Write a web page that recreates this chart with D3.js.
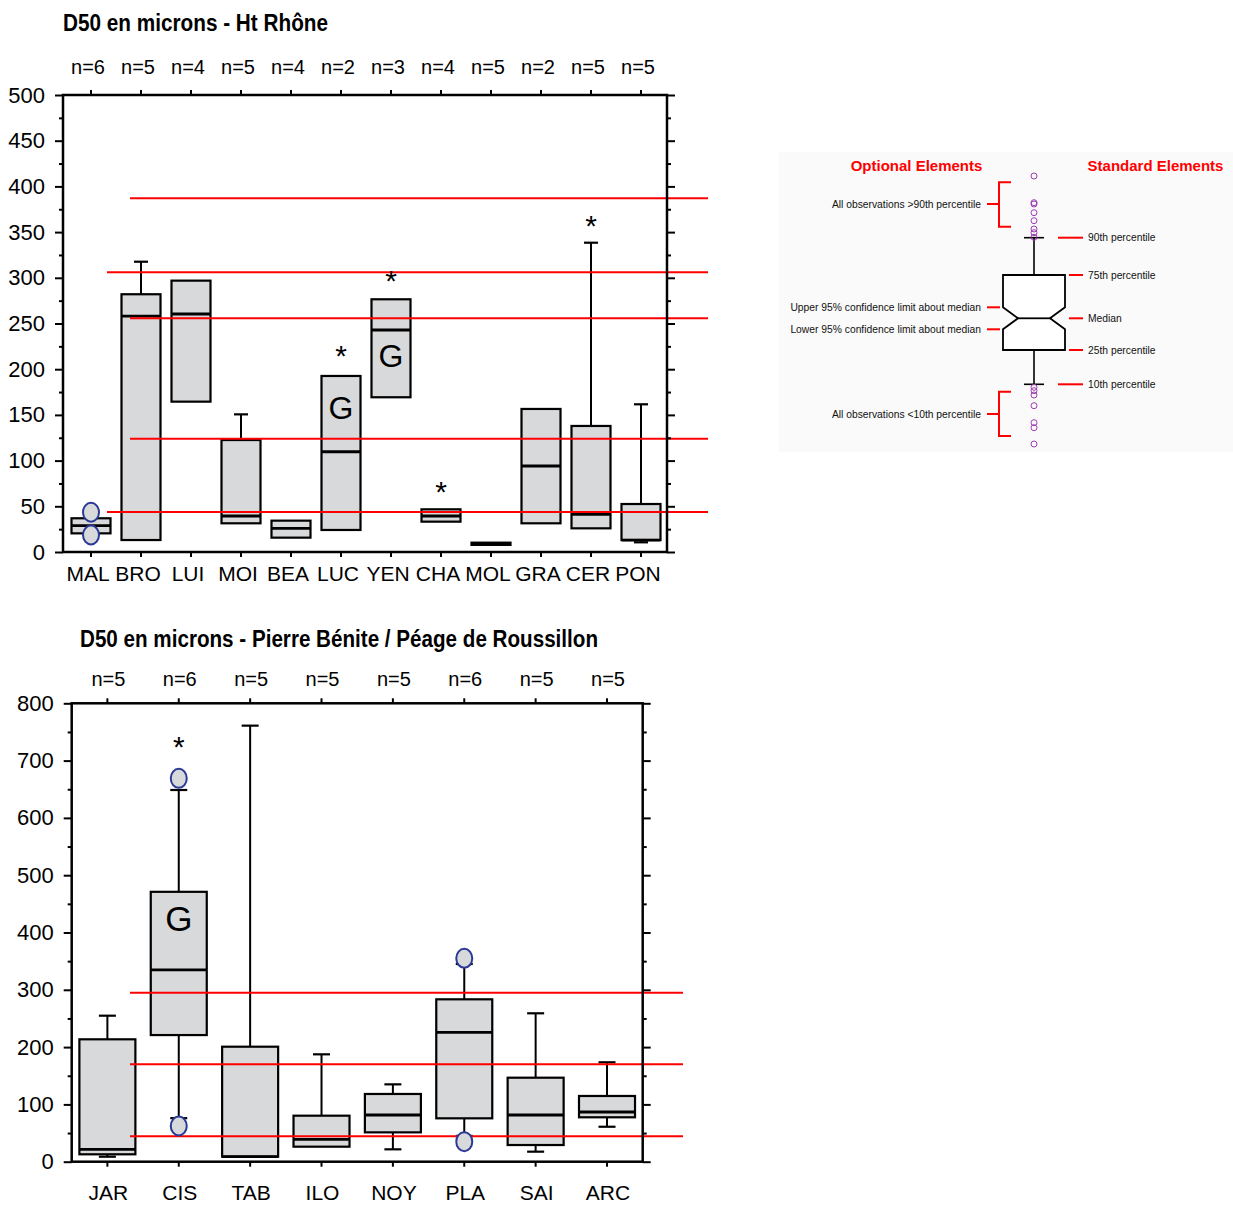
<!DOCTYPE html>
<html><head><meta charset="utf-8">
<script src="https://cdn.jsdelivr.net/npm/d3@7"></script>
<style>
body{margin:0;background:#fff}
svg{display:block}
text{font-family:"Liberation Sans",Arial,Helvetica,sans-serif}
</style>
</head><body>
<svg id="chart" width="1233" height="1205"></svg>
<script>
// ================= DATA : Ht Rhône =================
const rhoneTitle = "D50 en microns - Ht Rhône";
const rhoneCats = ["MAL","BRO","LUI","MOI","BEA","LUC","YEN","CHA","MOL","GRA","CER","PON"];
const rhoneN    = [6,5,4,5,4,2,3,4,5,2,5,5];
const rhoneQ1   = [20.4, 13.1, 164.5, 31.4, 15.7, 24.1, 169.3, 33.2, 7.8, 31.4, 25.9, 13.1];
const rhoneMed  = [28.8, 258, 260.4, 39.4, 25.9, 109.7, 242.9, 39.4, 9, 94.1, 41.2, 13.1];
const rhoneQ3   = [36.9, 282, 296.9, 122.5, 34.3, 192.6, 276.5, 46.7, 10.2, 156.5, 137.9, 52.5];
const rhoneWLo  = [null, null, null, null, null, null, null, null, null, null, null, 10.6];
const rhoneWHi  = [null, 317.6, null, 150.6, null, null, null, null, null, null, 338.4, 161.6];
const rhoneOutliers = [["MAL",43.5],["MAL",18.6]];
const rhoneStars = [["LUC",218],["YEN",300],["CHA",70],["CER",361]];
const rhoneG = [["LUC",158],["YEN",215]];
const rhoneRef = [387, 306, 255.7, 124, 43.8];
const rhoneYTicks = [0,50,100,150,200,250,300,350,400,450,500];
const rhoneYMinor = [25,75,125,175,225,275,325,375,425,475];

// ================= DATA : Pierre Bénite / Péage de Roussillon =================
const pbTitle = "D50 en microns - Pierre Bénite / Péage de Roussillon";
const pbCats = ["JAR","CIS","TAB","ILO","NOY","PLA","SAI","ARC"];
const pbN    = [5,6,5,5,5,6,5,5];
const pbQ1   = [12.9, 221, 8.7, 26.2, 51.2, 75.7, 29.1, 77.5];
const pbMed  = [21.6, 334.6, 8.7, 39, 81.5, 225.8, 81.5, 86.7];
const pbQ3   = [213.6, 471, 200.7, 80.3, 118.2, 283.4, 146.6, 114.7];
const pbWLo  = [8.7, 76, null, null, 21.6, 45, 17.5, 61];
const pbWHi  = [254.8, 648.7, 761, 187.4, 135, 345, 259, 173.5];
const pbOutliers = [["CIS",669],["CIS",62.3],["PLA",355],["PLA",35]];
const pbStars = [["CIS",730]];
const pbG = [["CIS",424]];
const pbRef = [295, 170, 44.3];
const pbYTicks = [0,100,200,300,400,500,600,700,800];
const pbYMinor = [50,150,250,350,450,550,650,750];

// ================= DATA : legend diagram (illustrative values) =================
const legendStats = {p10:59.7, p25:94, med:125.7, p75:169, p90:206.3, notchLo:114.7, notchHi:136.7};
const legendHigh = [268, 241.3, 240, 231.3, 223.3, 215, 211.3, 206.7];
const legendLow  = [56.7, 53.3, 49, 38.3, 21.3, 16.3, 0];

// ================= DRAWING =================
const svg = d3.select("#chart");
const BOX_FILL = "#d8d9db";
const RED = "#ff0000";
const CIRCLE_STROKE = "#2a3a96";

function drawPanel(d, L) {
  const g = svg.append("g");
  const y = d3.scaleLinear().domain([0, d.yTicks[d.yTicks.length-1]]).range([L.bottom, L.top]);
  const x = d3.scaleBand().domain(d.cats).range([L.bandL, L.bandR]);
  const cx = c => x(c) + x.bandwidth()/2;

  // title (condensed bold look)
  g.append("text").attr("x", L.titleX).attr("y", L.titleY)
    .attr("font-size", 23).attr("font-weight", "bold")
    .attr("textLength", L.titleW).attr("lengthAdjust", "spacingAndGlyphs")
    .text(d.title);

  // boxes
  const rows = d.cats.map((c,i)=>({c, q1:d.q1[i], med:d.med[i], q3:d.q3[i], lo:d.wlo[i], hi:d.whi[i]}));
  const bw = L.boxW;
  const bg = g.append("g");
  rows.forEach(r => {
    const xc = cx(r.c);
    if (r.hi != null) {
      bg.append("line").attr("x1", xc).attr("x2", xc).attr("y1", y(r.q3)).attr("y2", y(r.hi))
        .attr("stroke","#000").attr("stroke-width",2);
      bg.append("line").attr("x1", xc-L.cap).attr("x2", xc+L.cap).attr("y1", y(r.hi)).attr("y2", y(r.hi))
        .attr("stroke","#000").attr("stroke-width",2.2);
    }
    if (r.lo != null) {
      bg.append("line").attr("x1", xc).attr("x2", xc).attr("y1", y(r.q1)).attr("y2", y(r.lo))
        .attr("stroke","#000").attr("stroke-width",2);
      bg.append("line").attr("x1", xc-L.cap).attr("x2", xc+L.cap).attr("y1", y(r.lo)).attr("y2", y(r.lo))
        .attr("stroke","#000").attr("stroke-width",2.2);
    }
    bg.append("rect").attr("x", xc-bw/2).attr("width", bw)
      .attr("y", y(r.q3)).attr("height", Math.max(0.5, y(r.q1)-y(r.q3)))
      .attr("fill", BOX_FILL).attr("stroke","#000").attr("stroke-width",2.2);
    bg.append("line").attr("x1", xc-bw/2).attr("x2", xc+bw/2).attr("y1", y(r.med)).attr("y2", y(r.med))
      .attr("stroke","#000").attr("stroke-width",2.8);
  });

  // reference (red) lines
  d.ref.forEach((v,i) => {
    g.append("line").attr("x1", L.refStart[i]).attr("x2", L.refEnd)
      .attr("y1", y(v)).attr("y2", y(v)).attr("stroke", RED).attr("stroke-width", 2);
  });

  // outliers
  d.outliers.forEach(([c,v]) => {
    g.append("ellipse").attr("cx", cx(c)).attr("cy", y(v)).attr("rx", 8).attr("ry", 9.5)
      .attr("fill", BOX_FILL).attr("stroke", CIRCLE_STROKE).attr("stroke-width", 2);
  });
  // stars
  d.stars.forEach(([c,v]) => {
    g.append("text").attr("x", cx(c)).attr("y", y(v) + 13.5).attr("text-anchor","middle")
      .attr("font-size", 30).text("*");
  });
  // G
  d.G.forEach(([c,v]) => {
    g.append("text").attr("x", cx(c)).attr("y", y(v) + L.gSize*0.358).attr("text-anchor","middle")
      .attr("font-size", L.gSize).text("G");
  });

  // axes
  const styleAxis = (sel, fs, dx) => {
    sel.select(".domain").remove();
    sel.selectAll(".tick line").attr("stroke","#000").attr("stroke-width",2);
    sel.selectAll(".tick text").attr("fill","#000").attr("font-size", fs)
      .attr("font-family",'"Liberation Sans",Arial,sans-serif')
      .attr("dx", dx || 0);
  };
  g.append("g").attr("transform",`translate(${L.left},0)`)
    .call(d3.axisLeft(y).tickValues(d.yTicks).tickSize(8).tickPadding(10))
    .call(s=>styleAxis(s,22));
  g.append("g").attr("transform",`translate(${L.left},0)`)
    .call(d3.axisLeft(y).tickValues(d.yMinor).tickSize(4).tickFormat(""))
    .call(s=>styleAxis(s,22));
  g.append("g").attr("transform",`translate(${L.right},0)`)
    .call(d3.axisRight(y).tickValues(d.yTicks).tickSize(8).tickFormat(""))
    .call(s=>styleAxis(s,22));
  g.append("g").attr("transform",`translate(${L.right},0)`)
    .call(d3.axisRight(y).tickValues(d.yMinor).tickSize(4).tickFormat(""))
    .call(s=>styleAxis(s,22));
  g.append("g").attr("transform",`translate(0,${L.top})`)
    .call(d3.axisTop(x).tickSize(5).tickPadding(L.nPad).tickFormat((c,i)=>"n="+d.n[i]))
    .call(s=>styleAxis(s,20,L.labelDx));
  g.append("g").attr("transform",`translate(0,${L.bottom})`)
    .call(d3.axisBottom(x).tickSize(5).tickPadding(L.catPad))
    .call(s=>styleAxis(s,21,L.labelDx));

  // frame
  g.append("rect").attr("x", L.left).attr("y", L.top)
    .attr("width", L.right-L.left).attr("height", L.bottom-L.top)
    .attr("fill","none").attr("stroke","#000").attr("stroke-width",2.5);
}

drawPanel(
  {title:rhoneTitle, cats:rhoneCats, n:rhoneN, q1:rhoneQ1, med:rhoneMed, q3:rhoneQ3,
   wlo:rhoneWLo, whi:rhoneWHi, outliers:rhoneOutliers, stars:rhoneStars, G:rhoneG,
   ref:rhoneRef, yTicks:rhoneYTicks, yMinor:rhoneYMinor},
  {left:63, right:667, top:95, bottom:552, bandL:66, bandR:666, boxW:39, cap:7,
   refStart:[130,107,130,130,107], refEnd:708, titleX:63, titleY:31, titleW:265,
   nPad:16, catPad:9, gSize:32, labelDx:-3}
);

drawPanel(
  {title:pbTitle, cats:pbCats, n:pbN, q1:pbQ1, med:pbMed, q3:pbQ3,
   wlo:pbWLo, whi:pbWHi, outliers:pbOutliers, stars:pbStars, G:pbG,
   ref:pbRef, yTicks:pbYTicks, yMinor:pbYMinor},
  {left:71.7, right:642.7, top:703.3, bottom:1161.7, bandL:71.7, bandR:642.7, boxW:56, cap:8.5,
   refStart:[130,130,130], refEnd:683, titleX:80, titleY:647, titleW:518,
   nPad:12, catPad:18, gSize:35, labelDx:1}
);

// ================= LEGEND DIAGRAM =================
(function(){
  const g = svg.append("g");
  g.append("rect").attr("x",779).attr("y",152).attr("width",454).attr("height",300).attr("fill","#fafafa");
  const yL = d3.scaleLinear().domain([0,268]).range([444,176]);
  const xc = 1034, hw = 31, notch = 15;
  const s = legendStats;
  g.append("text").attr("x",916.5).attr("y",171).attr("text-anchor","middle").attr("font-size",15)
    .attr("font-weight","bold").attr("fill",RED).text("Optional Elements");
  g.append("text").attr("x",1155.5).attr("y",171).attr("text-anchor","middle").attr("font-size",15)
    .attr("font-weight","bold").attr("fill",RED).text("Standard Elements");
  // whiskers
  [[s.p75,s.p90],[s.p25,s.p10]].forEach(([a,b])=>{
    g.append("line").attr("x1",xc).attr("x2",xc).attr("y1",yL(a)).attr("y2",yL(b)).attr("stroke","#000").attr("stroke-width",1.6);
    g.append("line").attr("x1",xc-10).attr("x2",xc+10).attr("y1",yL(b)).attr("y2",yL(b)).attr("stroke","#000").attr("stroke-width",1.6);
  });
  // notched box
  const pts = [
    [xc-hw,yL(s.p75)],[xc+hw,yL(s.p75)],[xc+hw,yL(s.notchHi)],[xc+hw-notch,yL(s.med)],
    [xc+hw,yL(s.notchLo)],[xc+hw,yL(s.p25)],[xc-hw,yL(s.p25)],[xc-hw,yL(s.notchLo)],
    [xc-hw+notch,yL(s.med)],[xc-hw,yL(s.notchHi)]
  ];
  g.append("path").attr("d","M"+pts.map(p=>p.join(",")).join("L")+"Z")
    .attr("fill","#fff").attr("stroke","#000").attr("stroke-width",1.8);
  g.append("line").attr("x1",xc-hw+notch).attr("x2",xc+hw-notch).attr("y1",yL(s.med)).attr("y2",yL(s.med))
    .attr("stroke","#000").attr("stroke-width",1.8);
  // observations beyond percentiles
  legendHigh.concat(legendLow).forEach(v=>{
    g.append("circle").attr("cx",xc).attr("cy",yL(v)).attr("r",3)
      .attr("fill","none").attr("stroke","#a03cb4").attr("stroke-width",1);
  });
  // brackets
  const bracket = (top,bot,mid)=>{
    g.append("path").attr("d",`M1011,${top}H999V${bot}H1011M999,${mid}H987`)
      .attr("fill","none").attr("stroke",RED).attr("stroke-width",2);
  };
  bracket(182.3,226.7,204);
  bracket(391.7,436,414);
  // left labels
  const leftLabels = [
    ["All observations >90th percentile",204,false],
    ["Upper 95% confidence limit about median",yL(s.notchHi),true],
    ["Lower 95% confidence limit about median",yL(s.notchLo),true],
    ["All observations <10th percentile",414,false]
  ];
  leftLabels.forEach(([t,yy,tick])=>{
    g.append("text").attr("x",981).attr("y",yy+3.6).attr("text-anchor","end").attr("font-size",10.3)
      .attr("fill","#111").text(t);
    if (tick) g.append("line").attr("x1",987).attr("x2",1000).attr("y1",yy).attr("y2",yy).attr("stroke",RED).attr("stroke-width",2);
  });
  // right labels
  const rightLabels = [
    ["90th percentile",s.p90,1058],["75th percentile",s.p75,1069],["Median",s.med,1069],
    ["25th percentile",s.p25,1069],["10th percentile",s.p10,1058]
  ];
  rightLabels.forEach(([t,v,x0])=>{
    g.append("line").attr("x1",x0).attr("x2",1083).attr("y1",yL(v)).attr("y2",yL(v)).attr("stroke",RED).attr("stroke-width",2);
    g.append("text").attr("x",1088).attr("y",yL(v)+3.6).attr("font-size",10.3).attr("fill","#111").text(t);
  });
})();
</script>
</body></html>
